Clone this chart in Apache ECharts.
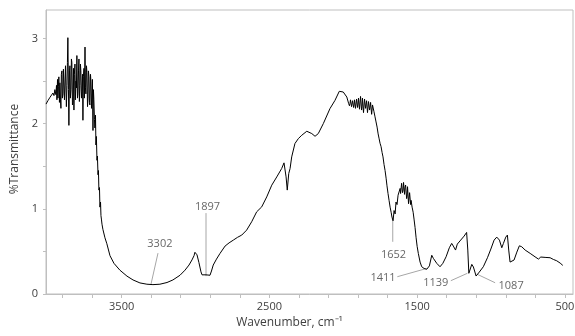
<!DOCTYPE html>
<html>
<head>
<meta charset="utf-8">
<script src="https://cdn.jsdelivr.net/npm/echarts@6/dist/echarts.min.js"></script>
<style>
html,body{margin:0;padding:0;background:#fff;}
#chart{width:575px;height:336px;}
</style>
</head>
<body>
<div id="chart"></div>
<script>
// Spectrum: wavenumber (cm-1) and %Transmittance
const wavenumber = [4012,4006,3999,3992,3985,3979,3972,3965,3958,3952,
  3945,3941,3938,3934,3931,3928,3925,3921,3918,3914,3911,3908,3904,3901,3897,3894,3891,3887,3884,3880,3877,3874,3870,3867,3864,3860,3857,3853,3850,3847,3843,3840,3837,3833,3830,3826,3823,3820,3816,3813,3809,3806,3803,3799,3796,3792,3789,3786,3782,3779,3776,3772,3769,3765,3762,3759,3755,3752,3748,3745,3742,3738,3735,3731,3728,3725,3721,3718,3715,3711,3708,3704,3701,3698,3694,3691,3688,3684,3681,3677,3674,3671,3667,3664,3660,3657,3654,3650,3647,3643,3640,3637,3633,3630,3627,
  3613,3600,3579,3552,3512,3464,3423,3376,3329,3288,3241,3193,3153,3105,3071,3044,3024,3010,3004,2990,2977,2963,2956,2943,2929,2922,2916,2902,2892,2880,2858,2834,2800,2773,2744,2716,2687,2654,2620,2586,2552,2518,2484,2450,2417,2401,2387,2379,2369,2360,2349,2327,2304,2281,2247,2213,2191,2169,2135,2090,2056,2027,2000,1976,
  1968,1964,1961,1958,1954,1951,1947,1944,1941,1937,1934,1930,1927,1924,1920,1917,1913,1910,1907,1903,1900,1897,1893,1890,1886,1883,1880,1876,1873,1870,1866,1863,1859,1856,1853,1849,1846,1842,1839,1836,1832,1829,1825,1822,1819,1815,1812,1808,1805,1802,1798,
  1792,1785,1778,1771,1764,1758,1751,1744,1737,1731,1724,1717,1710,1704,1697,1690,1683,1676,1670,1663,1656,1649,1643,1636,1629,1622,
  1615,1612,1609,1605,1602,1599,1595,1592,1588,1585,1582,1578,1575,1571,1568,1565,1561,1558,1555,1551,1548,1544,1541,
  1534,1527,1521,1514,1507,1500,1492,1480,1469,1453,1435,1417,1401,1390,1379,1367,1345,1326,1304,1282,1266,1255,1240,1228,1205,1182,1165,1157,1150,1142,1130,1119,1101,1079,1052,1024,1001,979,961,943,927,916,900,889,880,871,859,844,825,808,792,769,735,702,679,663,634,600,578,555,532,514];
const transmittance = [2.23,2.25,2.27,2.29,2.31,2.32,2.30,2.36,2.33,2.40,
  2.34,2.45,2.28,2.52,2.30,2.44,2.55,2.25,2.48,2.28,2.18,2.58,2.62,2.30,2.35,2.64,2.66,2.28,2.30,2.68,2.70,2.20,2.45,2.72,3.01,2.40,1.98,2.62,2.68,2.30,2.40,2.76,2.72,2.22,2.25,2.65,2.16,2.58,2.70,2.28,2.50,2.42,2.80,2.30,2.35,2.62,2.76,2.26,2.45,2.70,2.62,2.30,2.38,2.58,2.04,2.55,2.65,2.30,2.90,2.42,2.35,2.68,2.60,2.20,2.30,2.62,2.55,2.25,2.22,2.58,2.50,2.18,2.35,2.52,1.92,2.40,2.28,2.05,1.95,2.10,1.75,1.85,1.57,1.62,1.40,1.45,1.22,1.25,1.02,1.08,0.92,0.88,0.82,0.80,0.76,
  0.66,0.59,0.45,0.36,0.28,0.21,0.165,0.13,0.115,0.11,0.115,0.135,0.165,0.22,0.28,0.34,0.40,0.45,0.49,0.46,0.37,0.26,0.225,0.215,0.225,0.232,0.215,0.22,0.27,0.34,0.41,0.477,0.563,0.60,0.633,0.665,0.692,0.75,0.848,0.965,1.023,1.14,1.278,1.375,1.473,1.54,1.375,1.22,1.415,1.473,1.61,1.767,1.825,1.864,1.911,1.884,1.852,1.884,2.001,2.177,2.274,2.38,2.372,2.313,
  2.29,2.24,2.26,2.21,2.24,2.28,2.27,2.20,2.21,2.27,2.25,2.19,2.22,2.28,2.26,2.18,2.20,2.29,2.27,2.19,2.23,2.30,2.29,2.17,2.18,2.32,2.31,2.16,2.20,2.30,2.28,2.13,2.14,2.29,2.30,2.18,2.22,2.27,2.26,2.13,2.15,2.26,2.28,2.16,2.19,2.25,2.24,2.11,2.12,2.22,2.20,
  2.14,2.08,2.02,1.96,1.88,1.83,1.77,1.73,1.66,1.61,1.52,1.45,1.36,1.27,1.18,1.10,1.02,0.96,0.90,0.86,0.98,0.94,1.08,1.05,1.16,1.14,
  1.24,1.18,1.20,1.30,1.29,1.19,1.22,1.31,1.30,1.17,1.25,1.28,1.29,1.12,1.15,1.26,1.24,1.06,1.08,1.19,1.18,1.05,1.10,
  1.02,0.96,0.88,0.78,0.66,0.56,0.477,0.375,0.32,0.30,0.29,0.33,0.455,0.418,0.41,0.36,0.32,0.36,0.437,0.543,0.594,0.563,0.516,0.586,0.633,0.68,0.723,0.516,0.243,0.258,0.348,0.317,0.211,0.258,0.32,0.426,0.528,0.633,0.668,0.633,0.543,0.594,0.668,0.692,0.516,0.375,0.36,0.399,0.492,0.566,0.555,0.516,0.477,0.437,0.41,0.434,0.43,0.426,0.406,0.39,0.363,0.336];

// Peak annotations: label text and the point each leader line points to
const peakLabels = ['3302','1897','1652','1411','1139','1087'];
const peakW = [3302, 2929, 1665, 1435, 1160, 1096];
const peakT = [0.11, 0.21, 0.906, 0.30, 0.243, 0.234];

// Axis ticks / labels
const xTickValues = [3900,3700,3500,3300,3100,2900,2700,2500,2300,2100,1900,1700,1500,1300,1100,900,700,500];
const xLabelValues = [3500,2500,1500,500];
const yTickValues = [0,0.5,1,1.5,2,2.5,3];
const yLabelValues = [0,1,2,3];

// Layout (annotation placement, in data units)
const leaderStartW = [3254, 2929, 1665, 1634, 1272, 972];
const leaderStartT = [0.48, 0.95, 0.613, 0.203, 0.156, 0.132];
const labelPosW = [3241, 2919, 1660, 1731, 1374, 864];
const labelPosT = [0.586, 1.02, 0.463, 0.188, 0.132, 0.10];

const FONT = 'Open Sans';
const TXT = '#404040';
const AXC = '#bfbfbf';

const spectrum = wavenumber.map((w, i) => [w, transmittance[i]]);

const leaderSeries = peakLabels.map((lab, i) => ({
  type: 'line', silent: true, symbol: 'none', animation: false,
  lineStyle: { color: '#a6a6a6', width: 1 },
  data: [[leaderStartW[i], leaderStartT[i]], [peakW[i], peakT[i]]],
  z: 3
}));

const option = {
  animation: false,
  grid: { left: 46, right: 2, top: 10, bottom: 42, show: true, borderColor: AXC, borderWidth: 1,
          containLabel: false, outerBoundsMode: 'none' },
  xAxis: {
    type: 'value', inverse: true, min: 445, max: 4012,
    name: 'Wavenumber, cm\u207B\u00B9', nameLocation: 'middle', nameGap: 23,
    nameTextStyle: { fontFamily: FONT, fontSize: 12, color: TXT, padding: [0, 40, 0, 0] },
    axisLine: { show: true, lineStyle: { color: AXC, width: 1 } },
    axisTick: { show: true, customValues: xTickValues, length: 4, lineStyle: { color: AXC } },
    axisLabel: { customValues: xLabelValues, formatter: v => String(v), fontFamily: FONT, fontSize: 11, color: TXT, margin: 7 },
    splitLine: { show: false }
  },
  yAxis: {
    type: 'value', min: 0, max: 3.335,
    name: '%Transmittance', nameLocation: 'middle', nameGap: 24, nameRotate: 90,
    nameTextStyle: { fontFamily: FONT, fontSize: 12, color: TXT, padding: [0, 0, 0, 6] },
    axisLine: { show: true, lineStyle: { color: AXC, width: 1 } },
    axisTick: { show: true, customValues: yTickValues, length: 3, lineStyle: { color: AXC } },
    axisLabel: { customValues: yLabelValues, formatter: v => String(v), fontFamily: FONT, fontSize: 11, color: TXT, margin: 8 },
    splitLine: { show: false }
  },
  series: [
    {
      type: 'line', data: spectrum, symbol: 'none', silent: true,
      lineStyle: { color: '#000', width: 1 }, z: 4
    },
    ...leaderSeries,
    {
      type: 'scatter', silent: true, symbolSize: 1,
      itemStyle: { color: 'rgba(0,0,0,0)' },
      data: peakLabels.map((lab, i) => ({ name: lab, value: [labelPosW[i], labelPosT[i]] })),
      label: { show: true, position: 'inside', formatter: '{b}', fontFamily: FONT, fontSize: 11, color: TXT },
      z: 5
    }
  ]
};

const chart = echarts.init(document.getElementById('chart'), null, { renderer: 'canvas' });
chart.setOption(option);
</script>
</body>
</html>
